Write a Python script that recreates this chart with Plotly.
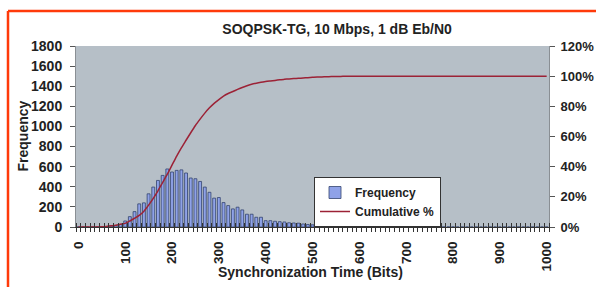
import plotly.graph_objects as go

# Bin labels (Synchronization Time, bits)
bins = list(range(0, 1001, 10))

# Frequency per bin
frequency = (
    [0, 0, 0, 0, 0, 3, 5, 10, 15, 25,
     60, 103, 153, 230, 240, 330, 397, 463, 513, 577,
     547, 563, 568, 537, 487, 480, 453, 397, 345, 287,
     293, 243, 213, 180, 197, 170, 127, 127, 97, 97,
     63, 63, 57, 53, 50, 42, 40, 38, 30, 25,
     22, 18, 15, 12, 10, 8, 6, 5, 4, 3,
     3, 2, 2, 2, 2, 2, 2, 2, 2, 2,
     2, 1, 1, 1, 1, 1, 1, 1, 1, 1,
     1, 0, 0, 0, 0, 0, 0, 0, 0, 0,
     0, 0, 0, 0, 0, 0, 0, 0, 0, 0,
     0]
)

# Cumulative % per bin
cumulative = (
    [0, 0, 0, 0, 0, 0.001, 0.004, 0.008, 0.012, 0.018,
     0.024, 0.04, 0.058, 0.077, 0.105, 0.145, 0.19, 0.24, 0.295, 0.35,
     0.41, 0.47, 0.525, 0.575, 0.625, 0.673, 0.715, 0.755, 0.79, 0.82,
     0.845, 0.868, 0.885, 0.898, 0.912, 0.925, 0.937, 0.946, 0.953, 0.959,
     0.964, 0.968, 0.972, 0.976, 0.979, 0.982, 0.984, 0.986, 0.988, 0.99,
     0.992, 0.994, 0.995, 0.996, 0.997, 0.998, 0.9985, 0.999, 0.9993, 0.9995,
     0.9997, 0.9998]
    + [1.0] * 39
)

x_labels = list(range(0, 1001, 100))
y_ticks = list(range(0, 1801, 200))
y2_ticks = [0, 0.2, 0.4, 0.6, 0.8, 1.0, 1.2]

FONT = "Liberation Sans, Arial, sans-serif"
TXT = "#222222"

fig = go.Figure()
fig.add_trace(go.Bar(
    x=bins, y=frequency, name="Frequency",
    marker=dict(color="#8fa2e8", line=dict(color="#34446e", width=0.8)),
    yaxis="y",
))
fig.add_trace(go.Scatter(
    x=bins, y=cumulative, name="Cumulative %", mode="lines",
    line=dict(color="#9c2236", width=1.5, shape="spline", smoothing=0.6),
    yaxis="y2",
))
# helper trace for the overlay x axis (cross tick marks)
fig.add_trace(go.Scatter(x=[bins[0]], y=[0], xaxis="x2", yaxis="y",
                         mode="markers", marker=dict(opacity=0),
                         showlegend=False, hoverinfo="skip"))

xrange = [-5, 1005]
minor_vals = [b - 5 for b in bins] + [bins[-1] + 5]

fig.update_layout(
    width=596, height=287,
    margin=dict(l=76, r=47, t=46, b=60, autoexpand=False),
    paper_bgcolor="white",
    plot_bgcolor="#b6bfc7",
    bargap=0.38,
    showlegend=True,
    font=dict(family=FONT, size=12, color=TXT),
    title=dict(text="<b>SOQPSK-TG, 10 Mbps, 1 dB Eb/N0</b>",
               x=0.552, xref="paper", xanchor="center",
               y=1 - 29 / 287, yref="container", yanchor="middle",
               font=dict(family=FONT, size=14, color=TXT)),
    xaxis=dict(
        range=xrange, tickmode="array", tickvals=x_labels,
        ticktext=[str(v) for v in x_labels], tickangle=-90,
        ticks="", showgrid=False, zeroline=False, automargin=False,
        showline=True, linecolor="#333333", linewidth=1,
        tickfont=dict(family=FONT, size=13.5, color=TXT, weight="bold"),
        ticklabelstandoff=8,
        minor=dict(tickmode="array", tickvals=minor_vals, ticks="outside",
                   ticklen=4, tickcolor="#333333", tickwidth=1, showgrid=False),
    ),
    xaxis2=dict(
        range=xrange, overlaying="x", anchor="y", side="bottom",
        showticklabels=False, ticks="", showgrid=False, zeroline=False,
        showline=False, automargin=False,
        minor=dict(tickmode="array", tickvals=minor_vals, ticks="inside",
                   ticklen=4, tickcolor="#333333", tickwidth=1, showgrid=False),
    ),
    yaxis=dict(
        range=[0, 1800], tickmode="array", tickvals=y_ticks,
        ticks="outside", ticklen=5, tickcolor="#555555",
        showgrid=False, zeroline=False, automargin=False,
        showline=True, linecolor="#8a8f94", linewidth=1,
        tickfont=dict(family=FONT, size=14, color=TXT, weight="bold"),
        ticklabelstandoff=5,
    ),
    yaxis2=dict(
        range=[0, 1.2], overlaying="y", side="right", anchor="x",
        tickmode="array", tickvals=y2_ticks, tickformat=".0%",
        ticks="outside", ticklen=5, tickcolor="#555555",
        showgrid=False, zeroline=False, automargin=False,
        showline=True, linecolor="#8a8f94", linewidth=1,
        tickfont=dict(family=FONT, size=13, color=TXT, weight="bold"),
        ticklabelstandoff=3,
    ),
    legend=dict(
        x=(314 - 76) / 473, y=(227 - 177) / 181, xanchor="left", yanchor="top",
        bgcolor="white", bordercolor="#333333", borderwidth=1,
        font=dict(family=FONT, size=12, color=TXT, weight="bold"),
        itemwidth=30, tracegroupgap=0,
    ),
    annotations=[
        dict(text="<b>Frequency</b>", textangle=-90, xref="paper", yref="paper",
             x=(22 - 76) / 473, y=0.5, xanchor="center", yanchor="middle",
             showarrow=False, font=dict(family=FONT, size=14, color=TXT)),
        dict(text="<b>Synchronization Time (Bits)</b>", xref="paper", yref="paper",
             x=(310 - 76) / 473, y=(227 - 272) / 181, xanchor="center",
             yanchor="middle", showarrow=False,
             font=dict(family=FONT, size=14, color=TXT)),
    ],
    shapes=[
        dict(type="line", xref="paper", yref="paper",
             x0=(8 - 76) / 473, x1=(620 - 76) / 473,
             y0=(227 - 11) / 181, y1=(227 - 11) / 181,
             line=dict(color="#ff3a0a", width=2.5)),
        dict(type="line", xref="paper", yref="paper",
             x0=(8 - 76) / 473, x1=(8 - 76) / 473,
             y0=(227 - 11) / 181, y1=(227 - 300) / 181,
             line=dict(color="#ff3a0a", width=2.5)),
    ],
)

fig.write_html(
    "out.html",
    config={"displayModeBar": False},
    post_script="document.body.style.margin='0';document.body.style.padding='0';",
)
